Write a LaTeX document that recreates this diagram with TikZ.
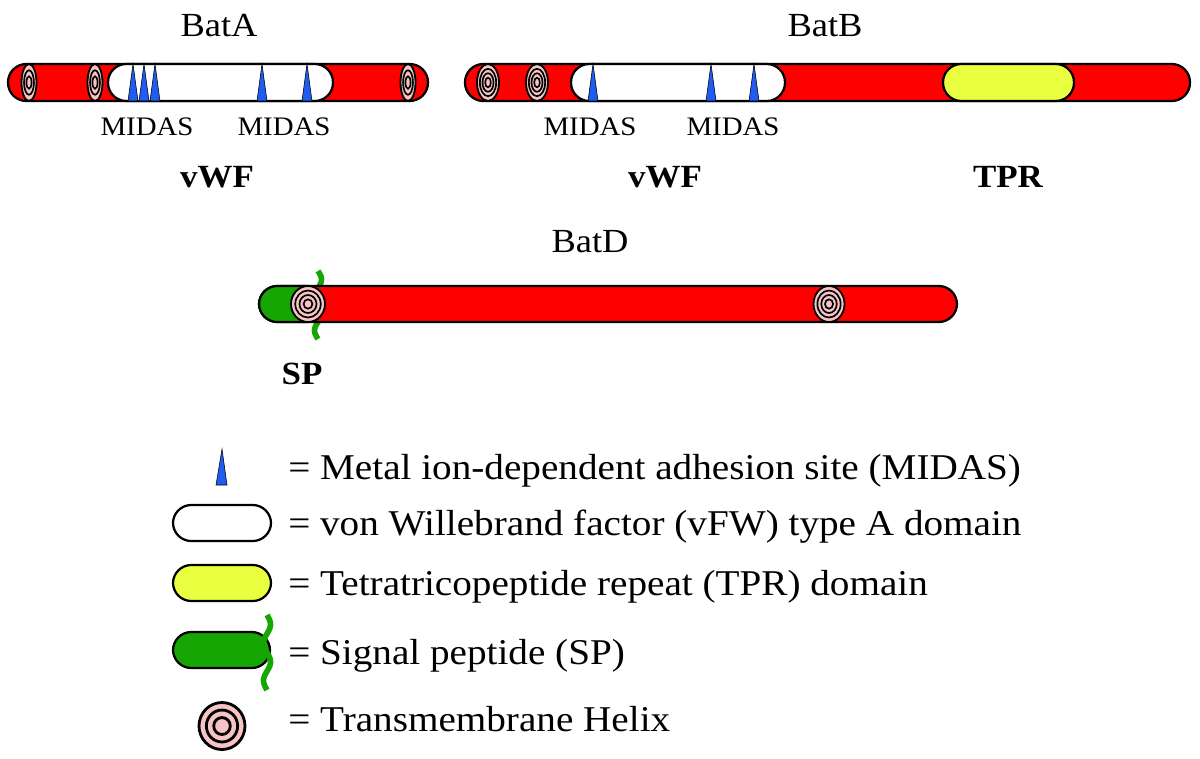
\documentclass[tikz,border=0pt]{standalone}
\usepackage{fontspec}
\setmainfont{Liberation Serif}[FakeStretch=1.08]
\definecolor{barred}{RGB}{255,0,0}
\definecolor{tpryellow}{RGB}{234,255,64}
\definecolor{spgreen}{RGB}{22,166,4}
\definecolor{midasblue}{RGB}{32,92,240}
\definecolor{helixpink}{RGB}{246,196,196}

\newcommand\tmhelix[6][]{%
  \filldraw[helix,#1] (#2,#3) ellipse [x radius=#4, y radius=#5];
  \foreach \f in {#6}
    \draw[ring,#1] (#2,#3) ellipse [x radius=\f*#4, y radius=\f*#5];
}

\begin{document}
\begin{tikzpicture}[x=0.025cm, y=-0.025cm,
  bar/.style={draw=black, line width=1.6pt, fill=barred, rounded corners=13pt},
  vwf/.style={bar, fill=white},
  tpr/.style={bar, fill=tpryellow},
  sp/.style={bar, fill=spgreen},
  midas/.style={draw=black, line width=0.4pt, fill=midasblue},
  helix/.style={draw=black, line width=1.3pt, fill=helixpink},
  ring/.style={draw=black, line width=1.2pt},
  wave/.style={draw=spgreen, line width=4pt},
  protname/.style={inner sep=0pt, anchor=base, font=\fontsize{24}{28}\selectfont},
  sitename/.style={inner sep=0pt, anchor=base, font=\fontsize{19}{22}\selectfont},
  domname/.style={inner sep=0pt, anchor=base, font=\fontsize{23}{27}\selectfont\bfseries},
  keytext/.style={inner sep=0pt, anchor=base west, font=\fontsize{25.8}{30}\selectfont}]
  \useasboundingbox (0,0) rectangle (1200,758);

  \node[protname] (batA) at (219,36) {BatA};
  \filldraw[bar] (8,64) rectangle (428,101);
  \tmhelix{29}{82.5}{7.5}{18.5}{0.66,0.34}
  \tmhelix{95}{82.5}{7.5}{18.5}{0.66,0.34}
  \filldraw[vwf] (108,64) rectangle (333,101);
  \foreach \x in {133,144,155,262,307}
    \filldraw[midas] (\x-5,101) -- (\x,64) -- (\x+5,101) -- cycle;
  \tmhelix{408}{82.5}{7.5}{18.5}{0.66,0.34}
  \node[sitename] (midasA1) at (147,135) {MIDAS};
  \node[sitename] (midasA2) at (284,135) {MIDAS};
  \node[domname] (vwfA) at (217,187) {vWF};

  \node[protname] (batB) at (825,36) {BatB};
  \filldraw[bar] (465,64) rectangle (1190,101);
  \tmhelix{488}{82.5}{11}{18.5}{0.74,0.5,0.26}
  \tmhelix{537}{82.5}{11}{18.5}{0.74,0.5,0.26}
  \filldraw[vwf] (571,64) rectangle (785,101);
  \foreach \x in {593,711,754}
    \filldraw[midas] (\x-5,101) -- (\x,64) -- (\x+5,101) -- cycle;
  \filldraw[tpr] (943,64) rectangle (1074,101);
  \node[sitename] (midasB1) at (590,135) {MIDAS};
  \node[sitename] (midasB2) at (733,135) {MIDAS};
  \node[domname] (vwfB) at (665,187) {vWF};
  \node[domname] (tprB) at (1008,187) {TPR};

  \node[protname] (batD) at (590,252) {BatD};
  \draw[wave] plot[domain=271:339, samples=50, smooth] ({318+3.5*sin((\x-271)/68*720)}, \x);
  \filldraw[bar] (259,286) rectangle (957,322);
  \begin{scope}
    \clip (250,270) rectangle (308,340);
    \filldraw[sp] (259,286) rectangle (340,322);
  \end{scope}
  \tmhelix{308}{304}{17}{18}{0.75,0.5,0.26}
  \tmhelix{829}{304}{15.5}{18}{0.75,0.5,0.26}
  \node[domname] (spD) at (302,384) {SP};

  \filldraw[midas] (216,485) -- (222,449) -- (227,485) -- cycle;
  \node[keytext] (keyMidas) at (288,479) {= Metal ion-dependent adhesion site (MIDAS)};
  \filldraw[vwf] (173,505) rectangle (271,541);
  \node[keytext] (keyVwf) at (288,535) {= von Willebrand factor (vFW) type A domain};
  \filldraw[tpr] (173,565) rectangle (271,601);
  \node[keytext] (keyTpr) at (288,595) {= Tetratricopeptide repeat (TPR) domain};
  \filldraw[sp] (173,632) rectangle (270,668);
  \draw[wave] plot[domain=615:690, samples=60, smooth] ({267+3.5*sin((\x-615)/75*720)}, \x);
  \node[keytext] (keySp) at (288,664) {= Signal peptide (SP)};
  \tmhelix[line width=2pt]{222}{726}{23}{23.5}{0.68,0.36}
  \node[keytext] (keyHelix) at (288,731) {= Transmembrane Helix};
\end{tikzpicture}
\end{document}
